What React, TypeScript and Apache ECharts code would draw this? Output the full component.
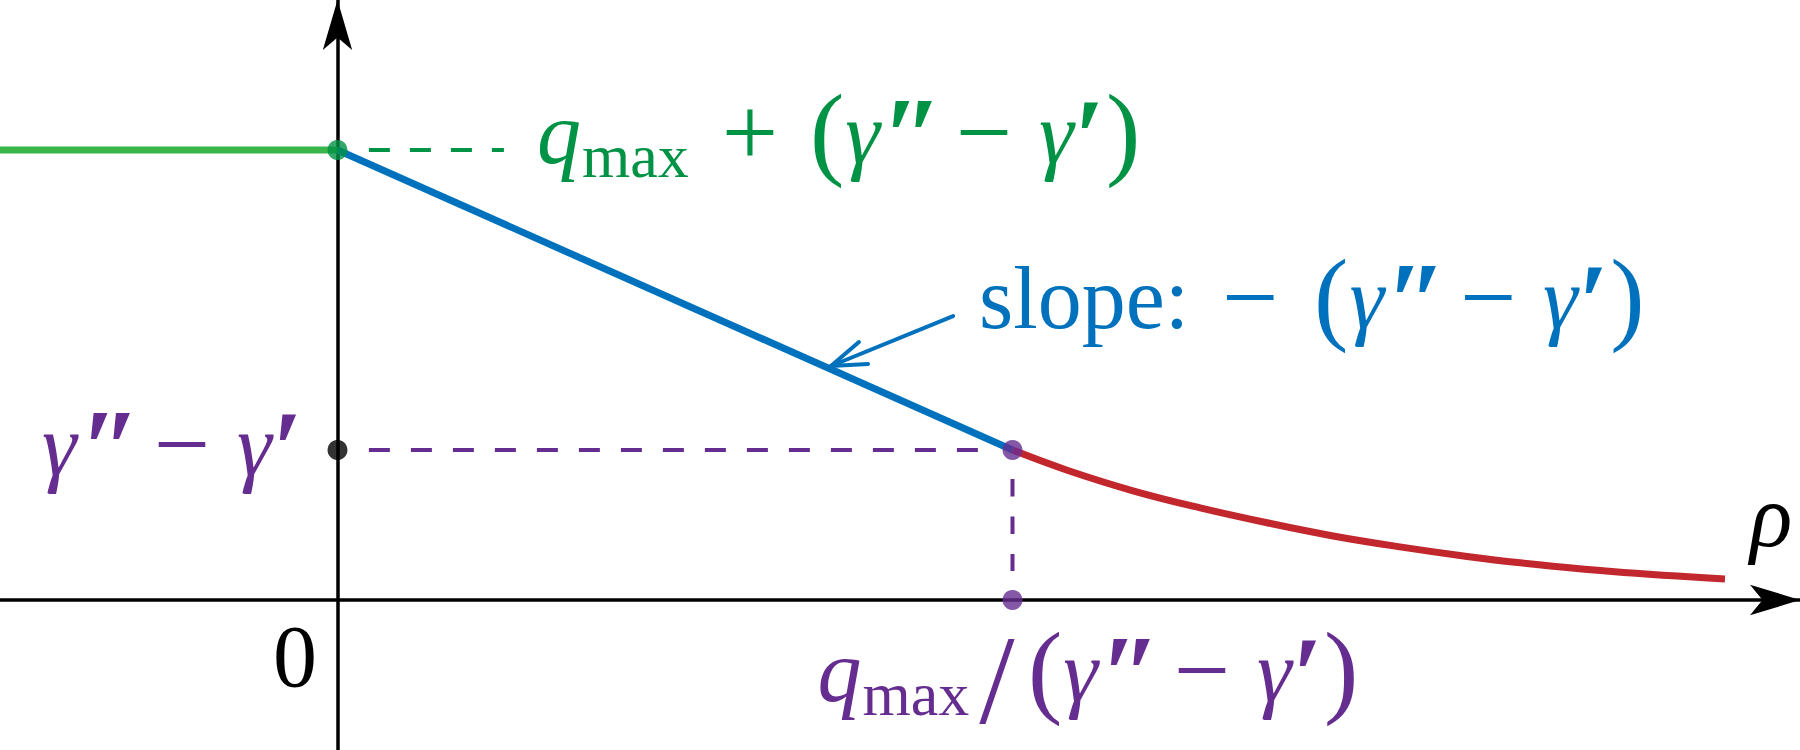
import React, { useEffect, useRef } from "react";
import * as echarts from "echarts";

// ---- model values ----
const Q_MAX = 2; // q_max
const GAP = 1; // γ'' − γ'
const TOP_Q = Q_MAX + GAP; // q_max + (γ'' − γ')
const RHO_STAR = Q_MAX / GAP; // q_max / (γ'' − γ')

const X_MIN = -1;
const X_MAX = 13 / 3;
const Y_MIN = -1;
const Y_MAX = 4;

const flatRho = [-1, 0];
const flatQ = [TOP_Q, TOP_Q];
const slopeRho = [0, RHO_STAR];
const slopeQ = [TOP_Q, GAP];
const tailRho = [2.0, 2.162, 2.357, 2.556, 2.754, 2.95, 3.148, 3.347, 3.504, 3.776, 4.111];
const tailQ = [1.0, 0.865, 0.728, 0.614, 0.515, 0.427, 0.354, 0.29, 0.248, 0.19, 0.14];

const greenGuideRho = [0.093, 0.493];
const purpleGuideRho = [0.093, 1.906];
const purpleGuideQ = [0.807, 0.193];

const arrowShaftRho = [1.824, 1.462];
const arrowShaftQ = [1.893, 1.56];
const arrowHeadRho = [1.545, 1.462, 1.572];
const arrowHeadQ = [1.72, 1.56, 1.573];

const GREEN_LINE = "#39B54A";
const GREEN = "#009245";
const BLUE = "#0071BC";
const RED = "#C1272D";
const PURPLE = "#662D91";
const BLACK = "#000000";

const FONT = "'Liberation Serif', 'Times New Roman', serif";

const zip = (xs: number[], ys: number[]) => xs.map((x, i) => [x, ys[i]]);

type Piece = {
  text: string;
  x: number; // desired left (or centre if center)
  dy?: number; // baseline shift
  size: number;
  italic?: boolean;
  bold?: boolean;
  center?: boolean;
};

let measureCtx: CanvasRenderingContext2D | null = null;
function fontOf(p: Piece) {
  return `${p.italic ? "italic " : ""}${p.bold ? "bold " : ""}${p.size}px ${FONT}`;
}
function measure(text: string, font: string) {
  if (!measureCtx) measureCtx = document.createElement("canvas").getContext("2d");
  if (!measureCtx) return text.length * 40;
  measureCtx.font = font;
  return measureCtx.measureText(text).width;
}

// lay pieces out left to right on a common baseline, never letting boxes overlap
function layout(pieces: Piece[], base: number, color: string) {
  const out: any[] = [];
  let prevEnd = -Infinity;
  for (const p of pieces) {
    const font = fontOf(p);
    const w = measure(p.text, font);
    let left = p.center ? p.x - w / 2 : p.x;
    left = Math.max(left, prevEnd + 1);
    prevEnd = left + w;
    const b = base + (p.dy || 0);
    out.push({
      type: "text",
      x: left,
      y: b - 0.3375 * p.size,
      z: 100,
      silent: true,
      style: {
        text: p.text,
        font,
        fill: color,
        textAlign: "left",
        textVerticalAlign: "middle",
        verticalAlign: "middle",
      },
    });
  }
  return out;
}

function gammaDiff(X: number, parens: boolean): Piece[] {
  const ps: Piece[] = [];
  if (parens) ps.push({ text: "(", x: X, dy: 3, size: 103 });
  ps.push({ text: "γ", x: X + 34, size: 88, italic: true });
  ps.push({ text: "″", x: X + 72, dy: 10, size: 110, bold: true });
  ps.push({ text: "−", x: X + 174, dy: 3, size: 100, center: true });
  ps.push({ text: "γ", x: X + 229, size: 88, italic: true });
  ps.push({ text: "′", x: X + 260, dy: 10, size: 108, bold: true });
  if (parens) ps.push({ text: ")", x: X + 291, dy: 3, size: 103 });
  return ps;
}

export default function App() {
  const ref = useRef<HTMLDivElement>(null);
  useEffect(() => {
    if (!ref.current) return;
    const chart = echarts.init(ref.current, undefined, { renderer: "svg" });
    const lineBase = { type: "line", symbol: "none", silent: true, z: 3 };
    const axisCommon = {
      axisTick: { show: false },
      axisLabel: { show: false },
      splitLine: { show: false },
    };
    chart.setOption({
      animation: false,
      backgroundColor: "#ffffff",
      grid: { left: 0, right: 0, top: 0, bottom: 0, containLabel: false },
      xAxis: {
        type: "value",
        min: X_MIN,
        max: X_MAX,
        axisLine: {
          onZero: true,
          symbol: ["none", "arrow"],
          symbolSize: [23, 50],
          symbolOffset: [0, 0],
          lineStyle: { color: BLACK, width: 3.5 },
        },
        ...axisCommon,
      },
      yAxis: {
        type: "value",
        min: Y_MIN,
        max: Y_MAX,
        axisLine: {
          onZero: true,
          symbol: ["none", "arrow"],
          symbolSize: [22, 50],
          symbolOffset: [0, 0],
          lineStyle: { color: BLACK, width: 3.5 },
        },
        ...axisCommon,
      },
      series: [
        { ...lineBase, data: zip(flatRho, flatQ), lineStyle: { color: GREEN_LINE, width: 7 } },
        { ...lineBase, data: zip(slopeRho, slopeQ), lineStyle: { color: BLUE, width: 7 } },
        { ...lineBase, data: zip(tailRho, tailQ), smooth: 0.4, lineStyle: { color: RED, width: 7 } },
        {
          ...lineBase,
          data: zip(greenGuideRho, [TOP_Q, TOP_Q]),
          lineStyle: { color: GREEN, width: 4, type: [21, 20] },
        },
        {
          ...lineBase,
          data: zip(purpleGuideRho, [GAP, GAP]),
          lineStyle: { color: PURPLE, width: 4, type: [21, 21] },
        },
        {
          ...lineBase,
          data: zip([RHO_STAR, RHO_STAR], purpleGuideQ),
          lineStyle: { color: PURPLE, width: 4, type: [17.5, 20] },
        },
        { ...lineBase, data: zip(arrowShaftRho, arrowShaftQ), lineStyle: { color: BLUE, width: 4, cap: "round" } },
        {
          ...lineBase,
          data: zip(arrowHeadRho, arrowHeadQ),
          lineStyle: { color: BLUE, width: 4, cap: "round", join: "round" },
        },
        {
          type: "scatter",
          silent: true,
          z: 5,
          symbolSize: 20,
          data: [
            { value: [0, TOP_Q], itemStyle: { color: GREEN } },
            { value: [0, GAP], itemStyle: { color: BLACK } },
            { value: [RHO_STAR, GAP], itemStyle: { color: PURPLE } },
            { value: [RHO_STAR, 0], itemStyle: { color: PURPLE } },
          ],
        },
      ],
    });

    const px = (x: number, y: number) => chart.convertToPixel({ gridIndex: 0 }, [x, y]) as number[];
    const gDot = px(0, TOP_Q);
    const bDot = px(0, GAP);
    const origin = px(0, 0);
    const pDot = px(RHO_STAR, 0);
    const aStart = px(arrowShaftRho[0], arrowShaftQ[0]);
    const xEnd = px(X_MAX, 0);

    const graphics: any[] = [];
    // green label: q_max + (γ'' − γ')
    {
      const X = gDot[0];
      graphics.push(
        ...layout(
          [
            { text: "q", x: X + 199.5, size: 88, italic: true },
            { text: "max", x: X + 237, dy: 14, size: 62 },
            { text: "+", x: X + 412.5, dy: 3, size: 100, center: true },
            ...gammaDiff(X + 472.5, true),
          ],
          gDot[1] + 13,
          GREEN
        )
      );
    }
    // blue label: slope: −(γ'' − γ')
    {
      const X = aStart[0];
      graphics.push(
        ...layout(
          [
            { text: "slope:", x: X + 26, size: 88 },
            { text: "−", x: X + 297, dy: 3, size: 100, center: true },
            ...gammaDiff(X + 361, true),
          ],
          aStart[1] + 12,
          BLUE
        )
      );
    }
    // purple left label: γ'' − γ'
    graphics.push(...layout(gammaDiff(bDot[0] - 329.5, false), bDot[1] + 25, PURPLE));
    // zero
    graphics.push(...layout([{ text: "0", x: origin[0] - 42.5, size: 88, center: true }], origin[1] + 86, BLACK));
    // purple bottom label: q_max/(γ'' − γ')
    {
      const X = pDot[0];
      graphics.push(
        ...layout(
          [
            { text: "q", x: X - 195, size: 88, italic: true },
            { text: "max", x: X - 155, dy: 14, size: 62 },
            { text: "/", x: X - 15.5, dy: 22, size: 127, center: true },
            ...gammaDiff(X + 15.5, true),
          ],
          pDot[1] + 101,
          PURPLE
        )
      );
    }
    // rho axis label
    graphics.push(...layout([{ text: "ρ", x: xEnd[0] - 50, size: 88, italic: true }], xEnd[1] - 54, BLACK));

    chart.setOption({ graphic: graphics });
    return () => chart.dispose();
  }, []);

  return (
    <div
      ref={ref}
      style={{ position: "fixed", left: 0, top: 0, width: 1800, height: 750, background: "#fff" }}
    />
  );
}
